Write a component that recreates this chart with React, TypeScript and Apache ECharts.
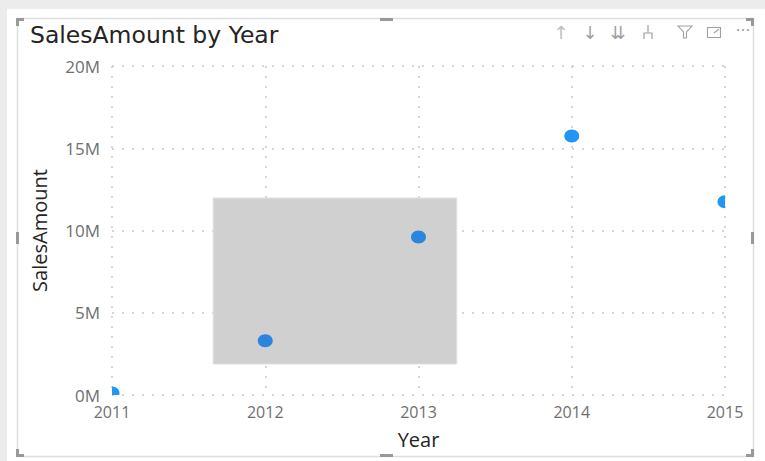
import React, { useEffect, useRef } from "react";
import * as echarts from "echarts";

const years = [2011, 2012, 2013, 2014, 2015];
const salesAmount = [0.12, 3.3, 9.6, 15.75, 11.75]; // millions
const selectedYears = [2012, 2013];
const yTicks = [0, 5, 10, 15, 20];
const selectionX = [2011.66, 2013.25];
const selectionY = [1.88, 11.98];

export default function App() {
  const ref = useRef<HTMLDivElement>(null);
  useEffect(() => {
    const chart = echarts.init(ref.current!, null, { renderer: "svg" });
    const dark = "#999999";
    const icon = "#a0a0a0";
    chart.setOption({
      animation: false,
      backgroundColor: "#ffffff",
      title: {
        text: "SalesAmount by Year",
        left: 25,
        top: 18,
        textStyle: { fontFamily: "DejaVu Sans", fontSize: 23.5, fontWeight: "normal", color: "#252423" },
      },
      grid: { left: 112, right: 40, top: 66, bottom: 66 },
      xAxis: {
        type: "value",
        min: 2011,
        max: 2015,
        interval: 1,
        name: "Year",
        nameLocation: "middle",
        nameGap: 34,
        nameTextStyle: { fontFamily: "Open Sans", fontSize: 20, color: "#252423" },
        axisLine: { show: false },
        axisTick: { show: false },
        axisLabel: { fontFamily: "Open Sans", fontSize: 16, color: "#6f6f6f", margin: 9, formatter: (v: number) => String(v) },
        splitLine: { show: true, lineStyle: { type: [2, 8], color: "#c8c8c8", width: 1.5 } },
      },
      yAxis: {
        type: "value",
        min: 0,
        max: 20,
        interval: 5,
        name: "SalesAmount",
        nameLocation: "middle",
        nameGap: 63,
        nameTextStyle: { fontFamily: "Open Sans", fontSize: 20, color: "#252423" },
        axisLine: { show: false },
        axisTick: { show: false },
        axisLabel: { fontFamily: "Open Sans", fontSize: 17, color: "#6f6f6f", margin: 12, formatter: (v: number) => (yTicks.includes(v) ? v + "M" : "") },
        splitLine: { show: true, lineStyle: { type: [2, 8], color: "#c8c8c8", width: 1.5 } },
      },
      series: [
        {
          type: "custom",
          clip: true,
          z: 5,
          data: years.map((y, i) => [y, salesAmount[i]]),
          renderItem: (params: any, api: any) => {
            const p = api.coord([api.value(0), api.value(1)]);
            const yr = api.value(0);
            return {
              type: "ellipse",
              shape: { cx: p[0], cy: p[1], rx: 7.5, ry: 6.5 },
              style: { fill: selectedYears.includes(yr) ? "#2a86dc" : "#2196f3" },
            };
          },
          markArea: {
            silent: true,
            itemStyle: { color: "#d0d0d0", borderColor: "#e4e4e4", borderWidth: 1 },
            data: [[{ coord: [selectionX[0], selectionY[0]] }, { coord: [selectionX[1], selectionY[1]] }]],
          },
        },
      ],
      graphic: [
        { type: "rect", z: -10, shape: { x: 0, y: 0, width: 765, height: 9 }, style: { fill: "#ececec" } },
        { type: "rect", z: -10, shape: { x: 0, y: 0, width: 7, height: 461 }, style: { fill: "#ececec" } },
        { type: "rect", z: -5, shape: { x: 17.5, y: 18.5, width: 736, height: 438 }, style: { fill: "none", stroke: "#dedede", lineWidth: 1.5 } },
        { type: "polyline", shape: { points: [[17.5, 26], [17.5, 19.5], [24, 19.5]] }, style: { stroke: dark, lineWidth: 3, fill: "none" } },
        { type: "polyline", shape: { points: [[746, 19.5], [752.5, 19.5], [752.5, 26]] }, style: { stroke: dark, lineWidth: 3, fill: "none" } },
        { type: "polyline", shape: { points: [[17.5, 449], [17.5, 455.5], [24, 455.5]] }, style: { stroke: dark, lineWidth: 3, fill: "none" } },
        { type: "polyline", shape: { points: [[746, 455.5], [752.5, 455.5], [752.5, 449]] }, style: { stroke: dark, lineWidth: 3, fill: "none" } },
        { type: "rect", shape: { x: 380, y: 18, width: 13, height: 3 }, style: { fill: dark } },
        { type: "rect", shape: { x: 380, y: 454, width: 13, height: 3 }, style: { fill: dark } },
        { type: "rect", shape: { x: 16, y: 232, width: 3, height: 12 }, style: { fill: dark } },
        { type: "rect", shape: { x: 751, y: 232, width: 3, height: 12 }, style: { fill: dark } },
        { type: "text", x: 561, y: 32, style: { text: "↑", fill: "#c0c0c0", fontSize: 18, align: "center", verticalAlign: "middle", fontFamily: "DejaVu Sans" } },
        { type: "text", x: 590, y: 32, style: { text: "↓", fill: icon, fontSize: 18, align: "center", verticalAlign: "middle", fontFamily: "DejaVu Sans" } },
        { type: "text", x: 618, y: 32, style: { text: "⇊", fill: icon, fontSize: 18, align: "center", verticalAlign: "middle", fontFamily: "DejaVu Sans" } },
        { type: "polyline", shape: { points: [[648, 25], [648, 33]] }, style: { stroke: icon, lineWidth: 1.2, fill: "none" } },
        { type: "polyline", shape: { points: [[644, 39], [644, 33], [652, 33], [652, 39]] }, style: { stroke: icon, lineWidth: 1.2, fill: "none" } },
        { type: "polygon", shape: { points: [[678, 26], [692, 26], [686.5, 32], [686.5, 38], [683.5, 38], [683.5, 32]] }, style: { stroke: icon, lineWidth: 1.1, fill: "none" } },
        { type: "rect", shape: { x: 707.5, y: 27.5, width: 13, height: 10 }, style: { stroke: icon, lineWidth: 1.1, fill: "none" } },
        { type: "polyline", shape: { points: [[714, 33], [719, 29]] }, style: { stroke: icon, lineWidth: 1.1, fill: "none" } },
        { type: "text", x: 743, y: 30, style: { text: "···", fill: icon, fontSize: 16, align: "center", verticalAlign: "middle", fontFamily: "DejaVu Sans" } },
      ],
    });
    return () => chart.dispose();
  }, []);
  return <div ref={ref} style={{ position: "fixed", left: 0, top: 0, width: 765, height: 461 }} />;
}
